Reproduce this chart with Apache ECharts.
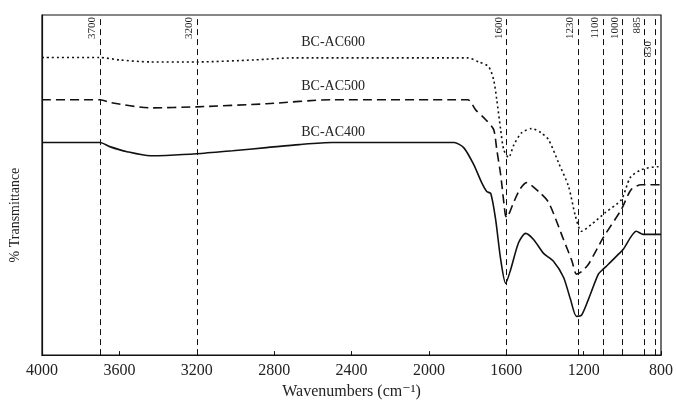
<!DOCTYPE html>
<html>
<head>
<meta charset="utf-8">
<script src="https://cdn.jsdelivr.net/npm/echarts@6/dist/echarts.min.js"></script>
<style>
  html, body { margin: 0; padding: 0; background: #fff; }
  #chart { width: 676px; height: 405px; }
</style>
</head>
<body>
<div id="chart"></div>
<script>
// FTIR spectra of activated carbons (wavenumber in cm-1, transmittance in arbitrary units)
const wnAC400 = [4000, 3700, 3650, 3560, 3440, 3360, 3200, 3015, 2840, 2670, 2500, 1870, 1820, 1768, 1727, 1701, 1680, 1655, 1629, 1603, 1577, 1536, 1500, 1459, 1407, 1356, 1304, 1268, 1237, 1211, 1175, 1124, 1100, 1072, 1021, 995, 954, 928, 892, 860, 800];
const tAC400 = [62.5, 62.5, 61.3, 59.8, 58.6, 58.7, 59.2, 60.1, 61.0, 61.9, 62.5, 62.5, 61.0, 56.0, 50.7, 48.1, 47.5, 39.9, 28.2, 21.1, 25.2, 33.1, 35.8, 34.0, 29.9, 27.6, 22.9, 16.4, 11.4, 11.7, 16.4, 23.8, 25.2, 26.7, 29.6, 31.1, 34.9, 36.4, 35.5, 35.5, 35.5];

const wnAC500 = [4000, 3700, 3640, 3440, 3200, 2840, 2500, 1800, 1758, 1706, 1665, 1649, 1629, 1605, 1598, 1562, 1530, 1495, 1433, 1381, 1304, 1260, 1237, 1210, 1175, 1098, 1005, 954, 902, 800];
const tAC500 = [75.1, 75.1, 74.2, 72.7, 73.0, 73.9, 75.1, 75.1, 72.1, 69.2, 66.3, 60.4, 53.1, 41.3, 40.5, 44.9, 48.7, 50.7, 48.1, 44.9, 34.0, 27.6, 23.8, 24.6, 26.7, 34.6, 42.8, 48.7, 50.1, 50.1];

const wnAC600 = [4000, 3700, 3600, 3440, 3200, 2900, 2700, 1800, 1742, 1691, 1665, 1649, 1629, 1613, 1588, 1560, 1520, 1469, 1420, 1381, 1330, 1278, 1242, 1211, 1160, 1088, 1005, 959, 902, 814, 800];
const tAC600 = [87.5, 87.5, 86.8, 86.2, 86.2, 86.8, 87.4, 87.4, 86.2, 84.8, 80.9, 75.1, 66.3, 60.4, 58.1, 61.9, 65.4, 66.6, 65.4, 63.3, 56.6, 49.6, 40.8, 36.4, 38.4, 41.9, 45.7, 52.2, 54.5, 55.4, 55.4];

// Band assignments marked with vertical reference lines
const bandPositions = [3700, 3200, 1600, 1230, 1100, 1000, 885, 830];
const bandLabels = ['3700', '3200', '1600', '1230', '1100', '1000', '885', '830'];

// Sample names and where each is written on the plot
const sampleNames = ['BC-AC600', 'BC-AC500', 'BC-AC400'];
const sampleLabelAt = [[2495, 92.1], [2495, 78.9], [2495, 65.4]];

const xTicks = [4000, 3600, 3200, 2800, 2400, 2000, 1600, 1200, 800];

const FONT = '"Liberation Serif", "DejaVu Serif", serif';
const pair = (xs, ys) => xs.map((x, i) => [x, ys[i]]);

const chart = echarts.init(document.getElementById('chart'), null, { renderer: 'canvas' });

function curve(name, xs, ys, type, idx) {
  return {
    name: name,
    type: 'line',
    data: pair(xs, ys),
    smooth: 0.25,
    showSymbol: false,
    symbol: 'none',
    lineStyle: { color: '#111', width: 1.6, type: type },
    markPoint: {
      symbol: 'circle',
      symbolSize: 0,
      silent: true,
      label: {
        show: true,
        position: 'inside',
        formatter: name,
        fontFamily: FONT,
        fontSize: 14,
        color: '#222'
      },
      data: [{ coord: sampleLabelAt[idx] }]
    },
    z: 3
  };
}

const bandLine = {
  name: 'bands',
  type: 'line',
  data: [],
  silent: true,
  markLine: {
    symbol: ['none', 'none'],
    silent: true,
    animation: false,
    lineStyle: { color: '#111', width: 1, type: [6, 4] },
    label: {
      show: true,
      position: 'insideEndTop',
      fontFamily: FONT,
      fontSize: 11,
      color: '#222'
    },
    data: bandPositions.map((v, i) => ({
      xAxis: v,
      label: {
        formatter: bandLabels[i],
        distance: bandLabels[i] === '830' ? [26, 2] : [2, 2]
      }
    }))
  }
};

chart.setOption({
  animation: false,
  backgroundColor: '#fff',
  grid: {
    left: 42, right: 13, top: 15, bottom: 49,
    show: true, borderColor: '#111', borderWidth: 1.2, backgroundColor: 'transparent'
  },
  xAxis: {
    type: 'value',
    inverse: true,
    min: 800,
    max: 4000,
    interval: 400,
    name: 'Wavenumbers (cm⁻¹)',
    nameLocation: 'middle',
    nameGap: 28,
    nameTextStyle: { fontFamily: FONT, fontSize: 16, color: '#222' },
    axisLine: { show: true, onZero: false, lineStyle: { color: '#111', width: 1.2 } },
    axisTick: { show: true, inside: true, length: 4, lineStyle: { color: '#111' } },
    axisLabel: {
      margin: 8,
      fontFamily: FONT,
      fontSize: 16,
      color: '#222',
      formatter: v => (xTicks.indexOf(v) >= 0 ? String(v) : '')
    },
    splitLine: { show: false }
  },
  yAxis: {
    type: 'value',
    min: 0,
    max: 100,
    name: '% Transmittance',
    nameLocation: 'middle',
    nameGap: 20,
    nameRotate: 90,
    nameTextStyle: { fontFamily: FONT, fontSize: 14, color: '#222', padding: [0, 60, 0, 0] },
    axisLine: { show: true, lineStyle: { color: '#111', width: 1.2 } },
    axisTick: { show: false },
    axisLabel: { show: false },
    splitLine: { show: false }
  },
  series: [
    curve(sampleNames[0], wnAC600, tAC600, [2, 3], 0),
    curve(sampleNames[1], wnAC500, tAC500, [9, 5], 1),
    curve(sampleNames[2], wnAC400, tAC400, 'solid', 2),
    bandLine
  ]
});
</script>
</body>
</html>
